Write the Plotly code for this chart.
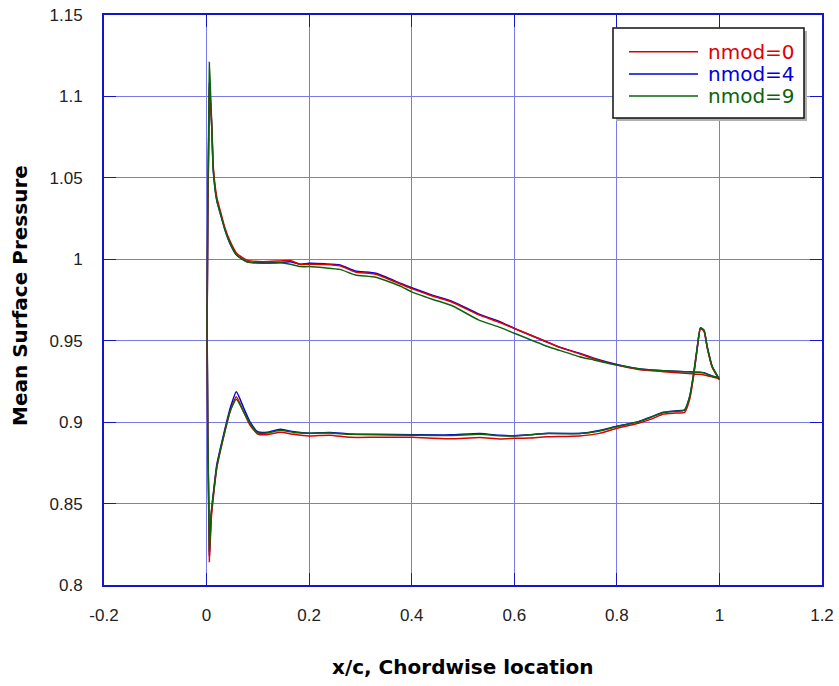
import plotly.graph_objects as go

# Chordwise stations, leading edge -> trailing edge
x_upper = [0.001, 0.0055, 0.008, 0.0105, 0.013, 0.02, 0.027, 0.036, 0.046, 0.059,
           0.079, 0.11, 0.144, 0.163, 0.183, 0.2, 0.23, 0.26, 0.29, 0.33, 0.38,
           0.4, 0.44, 0.48, 0.53, 0.572, 0.6, 0.662, 0.686, 0.727, 0.755, 0.8,
           0.845, 0.891, 0.932, 0.97, 0.986, 1.0]
x_lower = [0.0055, 0.009, 0.0137, 0.02, 0.027, 0.036, 0.046, 0.058, 0.072, 0.085,
           0.0995, 0.118, 0.144, 0.17, 0.2, 0.24, 0.28, 0.33, 0.4, 0.475, 0.533,
           0.572, 0.6, 0.63, 0.662, 0.727, 0.766, 0.8, 0.842, 0.868, 0.891, 0.914,
           0.932, 0.942, 0.95, 0.957, 0.963, 0.97, 0.976, 0.986, 0.995, 1.0]

# Mean surface pressure, upper side
p_upper_nmod0 = [0.955, 1.105, 1.094, 1.079, 1.057, 1.038, 1.0295, 1.019, 1.011, 1.0035,
                 0.9995, 0.9985, 0.999, 0.9993, 0.9968, 0.997, 0.9968, 0.996, 0.9922, 0.9908,
                 0.9845, 0.982, 0.9775, 0.9735, 0.966, 0.9612, 0.9575, 0.9495, 0.9462, 0.942,
                 0.939, 0.935, 0.9322, 0.931, 0.930, 0.929, 0.9278, 0.9265]
p_upper_nmod4 = [0.958, 1.108, 1.095, 1.078, 1.055, 1.036, 1.028, 1.018, 1.0095, 1.0025,
                 0.9985, 0.9978, 0.998, 0.9985, 0.997, 0.9975, 0.9972, 0.9965, 0.9928, 0.9914,
                 0.985, 0.9825, 0.978, 0.974, 0.9665, 0.9617, 0.9576, 0.9494, 0.9463, 0.9423,
                 0.9392, 0.9354, 0.9327, 0.9316, 0.931, 0.9304, 0.9283, 0.927]
p_upper_nmod9 = [0.96, 1.121, 1.1, 1.0794, 1.055, 1.036, 1.028, 1.018, 1.0098, 1.0025,
                 0.9985, 0.9975, 0.9978, 0.997, 0.9955, 0.9955, 0.9948, 0.9938, 0.9904, 0.989,
                 0.9832, 0.980, 0.9755, 0.9713, 0.9628, 0.9582, 0.9546, 0.9468, 0.9443, 0.9402,
                 0.9382, 0.9351, 0.9327, 0.9316, 0.931, 0.9302, 0.928, 0.9275]

# Mean surface pressure, lower side
p_lower_nmod0 = [0.8143, 0.840, 0.8555, 0.872, 0.8825, 0.8945, 0.9065, 0.9156, 0.9065, 0.898,
                 0.8927, 0.8923, 0.8938, 0.8925, 0.8915, 0.892, 0.8907, 0.8907, 0.8907, 0.8898,
                 0.8905, 0.8897, 0.8901, 0.8903, 0.891, 0.8915, 0.8931, 0.8962, 0.8993, 0.902,
                 0.905, 0.9056, 0.906, 0.914, 0.929, 0.946, 0.9575, 0.9558, 0.946, 0.9335,
                 0.9285, 0.926]
p_lower_nmod4 = [0.8184, 0.843, 0.8575, 0.874, 0.884, 0.896, 0.9085, 0.9187, 0.909, 0.900,
                 0.8941, 0.8938, 0.8956, 0.8941, 0.8932, 0.8937, 0.8927, 0.8925, 0.8923, 0.8922,
                 0.893, 0.8919, 0.8917, 0.8922, 0.8931, 0.893, 0.8948, 0.8975, 0.9003, 0.9034,
                 0.9061, 0.9069, 0.9075, 0.9156, 0.930, 0.9464, 0.9578, 0.9562, 0.9464, 0.934,
                 0.9289, 0.9263]
p_lower_nmod9 = [0.8205, 0.844, 0.857, 0.8725, 0.883, 0.895, 0.907, 0.914, 0.9065, 0.899,
                 0.8935, 0.8933, 0.895, 0.8937, 0.8932, 0.8934, 0.8925, 0.8922, 0.892, 0.8918,
                 0.8925, 0.8917, 0.8915, 0.8922, 0.893, 0.893, 0.8946, 0.8973, 0.9002, 0.9032,
                 0.906, 0.9067, 0.9073, 0.9158, 0.9305, 0.9466, 0.958, 0.9565, 0.9466, 0.9342,
                 0.929, 0.9265]

series_names = ["nmod=0", "nmod=4", "nmod=9"]
series_colors = ["#e00000", "#0000dd", "#0b640b"]

x_ticks = [-0.2, 0, 0.2, 0.4, 0.6, 0.8, 1.0, 1.2]
x_tick_labels = ["-0.2", "0", "0.2", "0.4", "0.6", "0.8", "1", "1.2"]
y_ticks = [0.8, 0.85, 0.9, 0.95, 1.0, 1.05, 1.1, 1.15]
y_tick_labels = ["0.8", "0.85", "0.9", "0.95", "1", "1.05", "1.1", "1.15"]

W, H = 839, 686
ML, MR, MT, MB = 104, 17, 15, 101
PW, PH = W - ML - MR, H - MT - MB


def px(xp):
    return (xp - ML) / PW


def py(yp):
    return 1 - (yp - MT) / PH


def closed_path(xu, pu, xl, pl):
    # trailing edge (upper) -> leading edge -> trailing edge (lower)
    return list(reversed(xu)) + list(xl), list(reversed(pu)) + list(pl)


surfaces = {
    "nmod=0": (p_upper_nmod0, p_lower_nmod0),
    "nmod=4": (p_upper_nmod4, p_lower_nmod4),
    "nmod=9": (p_upper_nmod9, p_lower_nmod9),
}
color_of = dict(zip(series_names, series_colors))

fig = go.Figure()
for name in ["nmod=4", "nmod=0", "nmod=9"]:
    pu, pl = surfaces[name]
    xs, ys = closed_path(x_upper, pu, x_lower, pl)
    fig.add_trace(go.Scatter(x=xs, y=ys, mode="lines", name=name,
                             line=dict(color=color_of[name], width=1.5,
                                       shape="spline", smoothing=0.5),
                             showlegend=False))

grid_col = "#7a7ae6"
axis_col = "#1414cc"
tick_font = dict(family="Liberation Sans, Arial, sans-serif", size=17, color="#222222")

fig.update_xaxes(range=[-0.2, 1.2], tickvals=x_ticks, ticktext=x_tick_labels,
                 showgrid=True, gridcolor=grid_col, gridwidth=1,
                 showline=True, linecolor=axis_col, linewidth=2, mirror="ticks",
                 ticks="inside", ticklen=12, tickcolor=axis_col, tickwidth=1,
                 tickfont=tick_font, ticklabelstandoff=14, zeroline=False,
                 automargin=False)
fig.update_yaxes(range=[0.8, 1.15], tickvals=y_ticks, ticktext=y_tick_labels,
                 showgrid=True, gridcolor=grid_col, gridwidth=1,
                 showline=True, linecolor=axis_col, linewidth=2, mirror="ticks",
                 ticks="inside", ticklen=12, tickcolor=axis_col, tickwidth=1,
                 tickfont=tick_font, ticklabelstandoff=16, zeroline=False,
                 automargin=False)

title_font = dict(family="DejaVu Sans, sans-serif", size=20, color="#000000")
annotations = [
    dict(text="<b>x/c, Chordwise location</b>", x=0.5, y=py(667), xref="paper", yref="paper",
         xanchor="center", yanchor="middle", showarrow=False, font=title_font),
    dict(text="<b>Mean Surface Pressure</b>", x=px(20), y=py(296), xref="paper", yref="paper",
         xanchor="center", yanchor="middle", textangle=-90, showarrow=False, font=title_font),
]

# Legend box drawn in paper space
box_l, box_r, box_t, box_b = 613, 804, 28, 118
shapes = [
    dict(type="rect", xref="paper", yref="paper", x0=px(box_l + 3), x1=px(box_r + 3),
         y0=py(box_b + 3), y1=py(box_t + 3), fillcolor="#b0b0b0", line=dict(width=0),
         layer="above"),
    dict(type="rect", xref="paper", yref="paper", x0=px(box_l), x1=px(box_r),
         y0=py(box_b), y1=py(box_t), fillcolor="white",
         line=dict(color="#111111", width=1.5), layer="above"),
]
row_y = [51.7, 74, 96]
legend_font = "DejaVu Sans, sans-serif"
for name, yr in zip(series_names, row_y):
    shapes.append(dict(type="line", xref="paper", yref="paper", x0=px(629), x1=px(698),
                       y0=py(yr), y1=py(yr), line=dict(color=color_of[name], width=1.5),
                       layer="above"))
    annotations.append(dict(text=name, x=px(706), y=py(yr), xref="paper", yref="paper",
                            xanchor="left", yanchor="middle", showarrow=False,
                            font=dict(family=legend_font, size=20, color=color_of[name])))

fig.update_layout(width=W, height=H, margin=dict(l=ML, r=MR, t=MT, b=MB, autoexpand=False),
                  plot_bgcolor="white", paper_bgcolor="white",
                  shapes=shapes, annotations=annotations, showlegend=False)

fig.write_html("out.html")
